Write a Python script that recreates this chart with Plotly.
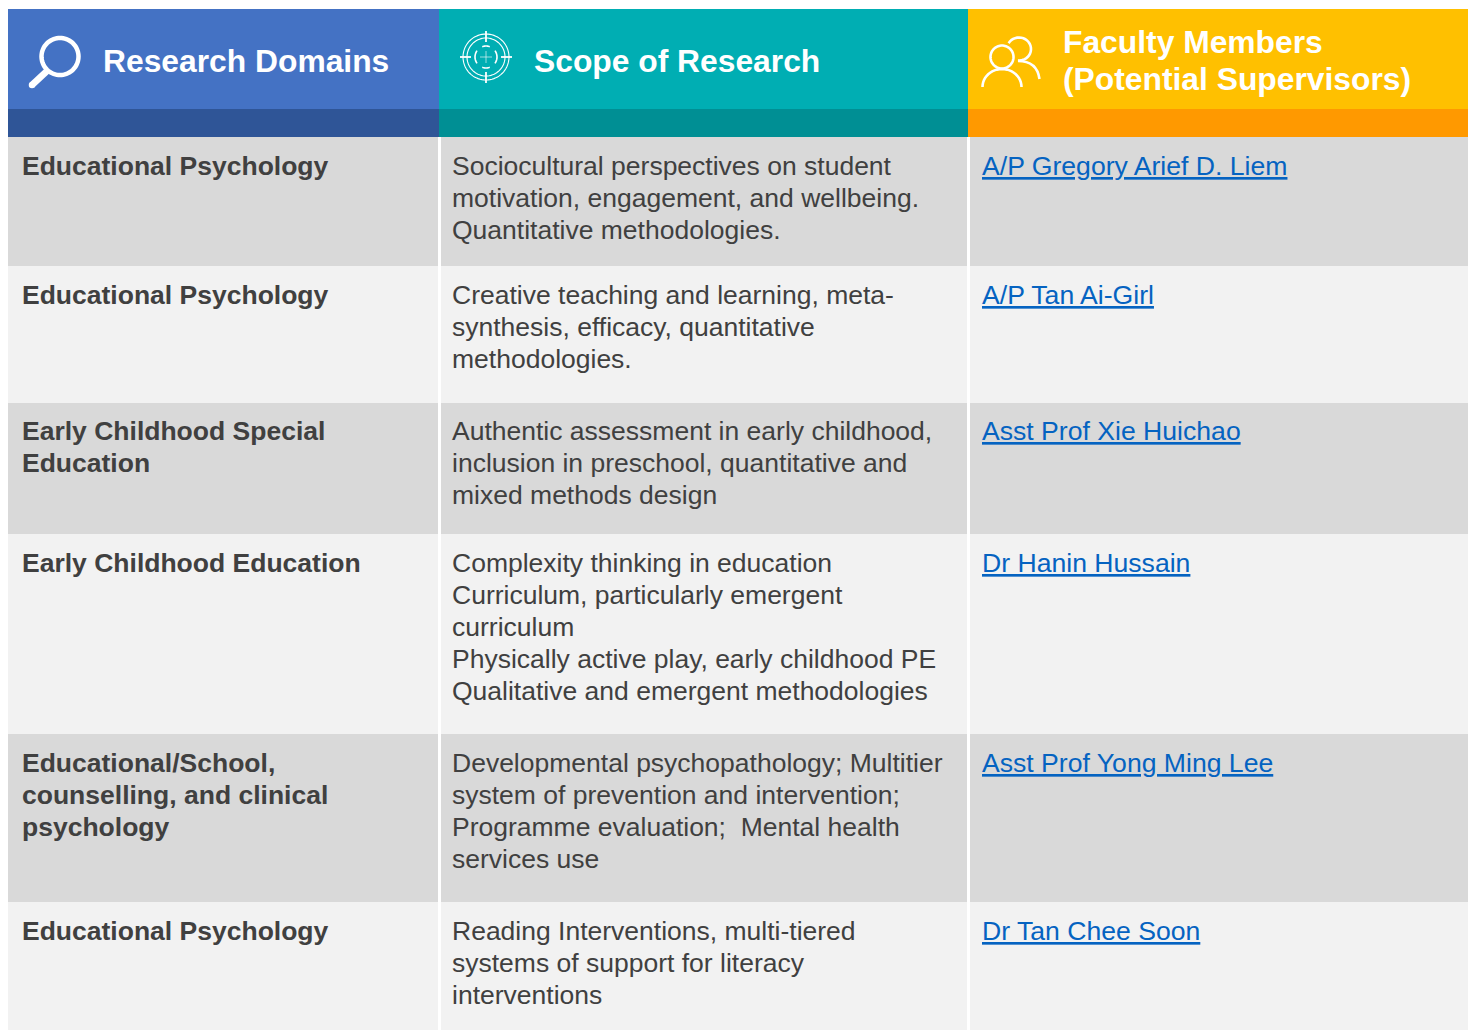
import math
import plotly.graph_objects as go

# ---- data -------------------------------------------------------------
headers = [["Research Domains"], ["Scope of Research"], ["Faculty Members", "(Potential Supervisors)"]]
domains = [
    ["Educational Psychology"],
    ["Educational Psychology"],
    ["Early Childhood Special", "Education"],
    ["Early Childhood Education"],
    ["Educational/School,", "counselling, and clinical", "psychology"],
    ["Educational Psychology"],
]
scopes = [
    ["Sociocultural perspectives on student", "motivation, engagement, and wellbeing.", "Quantitative methodologies."],
    ["Creative teaching and learning, meta-", "synthesis, efficacy, quantitative", "methodologies."],
    ["Authentic assessment in early childhood,", "inclusion in preschool, quantitative and", "mixed methods design"],
    ["Complexity thinking in education", "Curriculum, particularly emergent", "curriculum",
     "Physically active play, early childhood PE", "Qualitative and emergent methodologies"],
    ["Developmental psychopathology; Multitier", "system of prevention and intervention;",
     "Programme evaluation;\u00a0 Mental health", "services use"],
    ["Reading Interventions, multi-tiered", "systems of support for literacy", "interventions"],
]
faculty = [
    "A/P Gregory Arief D. Liem",
    "A/P Tan Ai-Girl",
    "Asst Prof Xie Huichao",
    "Dr Hanin Hussain",
    "Asst Prof Yong Ming Lee",
    "Dr Tan Chee Soon",
]

# ---- layout and style --------------------------------------------------
W, H = 1471, 1030
col_edges = [8, 439, 968, 1468]
col_text_x = [20.5, 451, 980.5]
head_text_x = [101.5, 532.5, 1061.5]
row_edges = [137, 266, 403, 534, 734, 902, 1030]
first_line_y = [165.5, 294.5, 430.5, 562.5, 762.5, 930.5]
line_pitch = 32
head_top, head_mid, head_bot = 9, 109, 137
head_colors = ["#4472C4", "#00AEB3", "#FFC000"]
band_colors = ["#2F5597", "#008F94", "#FF9900"]
row_colors = ["#D9D9D9", "#F2F2F2"]
text_color = "#404040"
link_color = "#0563C1"
font = "Liberation Sans, Arial, sans-serif"
body_size = 26.5
link_size = 26.6
head_size = 31.8
white = "#FFFFFF"

fig = go.Figure()


def bars(x0, x1, y0, y1, colors):
    fig.add_trace(go.Bar(
        x=[(a + b) / 2 for a, b in zip(x0, x1)],
        width=[b - a for a, b in zip(x0, x1)],
        base=y0,
        y=[b - a for a, b in zip(y0, y1)],
        marker=dict(color=colors, line=dict(width=0)),
        hoverinfo="skip", showlegend=False,
    ))


# header and band
bars(col_edges[:-1], col_edges[1:], [head_top] * 3, [head_mid] * 3, head_colors)
bars(col_edges[:-1], col_edges[1:], [head_mid] * 3, [head_bot] * 3, band_colors)

# body cells
gap = 1.5
for c in range(3):
    left = col_edges[c] + (gap if c else 0)
    right = col_edges[c + 1] - (gap if c < 2 else 0)
    bars([left] * 6, [right] * 6, row_edges[:-1], row_edges[1:],
         [row_colors[i % 2] for i in range(6)])


def label(x, y, text, size, color, bold=False):
    fig.add_annotation(
        x=x, y=y, xref="x", yref="y", text=f"<b>{text}</b>" if bold else text,
        showarrow=False, xanchor="left", yanchor="middle", align="left",
        borderpad=0, font=dict(family=font, size=size, color=color),
    )


# header text
label(head_text_x[0], 61, headers[0][0], head_size, white, True)
label(head_text_x[1], 61, headers[1][0], head_size, white, True)
label(head_text_x[2], 42, headers[2][0], head_size, white, True)
label(head_text_x[2], 79, headers[2][1], head_size, white, True)

# body text
for i in range(6):
    y = first_line_y[i]
    for j, t in enumerate(domains[i]):
        label(col_text_x[0], y + j * line_pitch, t, body_size, text_color, True)
    for j, t in enumerate(scopes[i]):
        label(col_text_x[1], y + j * line_pitch, t, body_size, text_color)
    label(col_text_x[2], y, f"<u>{faculty[i]}</u>", link_size, link_color)


# ---- icons -------------------------------------------------------------
def arc(cx, cy, rx, ry, a0, a1, n=24):
    pts = []
    for k in range(n + 1):
        a = math.radians(a0 + (a1 - a0) * k / n)
        pts.append((cx + rx * math.cos(a), cy + ry * math.sin(a)))
    return "M" + " L".join(f"{px:.2f},{py:.2f}" for px, py in pts)


def stroke(path, width, color=white, opacity=1.0):
    fig.add_shape(type="path", path=path, line=dict(color=color, width=width),
                  opacity=opacity, xref="x", yref="y", layer="above")


def circle(cx, cy, r, width, opacity=1.0):
    stroke(arc(cx, cy, r, r, 0, 360, 72) + " Z", width, opacity=opacity)


def dot(cx, cy, r):
    fig.add_shape(type="circle", x0=cx - r, x1=cx + r, y0=cy - r, y1=cy + r,
                  fillcolor=white, line=dict(width=0), layer="above")


# magnifier
circle(60, 56.5, 18.5, 4.5)
stroke("M47,71 L32,85", 6.5)
dot(32, 85, 3.25)

# target
tx, ty = 486, 57
circle(tx, ty, 23, 1.1)
circle(tx, ty, 19, 1.1)
for a0, a1 in [(-110, -70), (-35, 35), (70, 110), (145, 215)]:
    stroke(arc(tx, ty, 11, 11, a0, a1, 10), 1.6)
stroke(f"M{tx - 26},{ty} L{tx - 15},{ty}", 1.8)
stroke(f"M{tx + 15},{ty} L{tx + 26},{ty}", 1.8)
stroke(f"M{tx},{ty - 26} L{tx},{ty - 15}", 1.8)
stroke(f"M{tx},{ty + 15} L{tx},{ty + 26}", 1.8)
stroke(f"M{tx - 6},{ty} L{tx + 6},{ty}", 1, opacity=0.6)
stroke(f"M{tx},{ty - 6} L{tx},{ty + 6}", 1, opacity=0.6)

# people
circle(1002, 57, 11.5, 2.6)
stroke(arc(1002, 87, 19.5, 18, 180, 360), 2.6)
stroke(arc(1019, 49, 12, 11.5, -150, 95), 2.6)
stroke("M1018,61 Q1037,61 1039.5,79", 2.6)

fig.update_layout(
    width=W, height=H, margin=dict(l=0, r=0, t=0, b=0),
    paper_bgcolor=white, plot_bgcolor=white, barmode="overlay", bargap=0,
    xaxis=dict(range=[0, W], visible=False, fixedrange=True),
    yaxis=dict(range=[H, 0], visible=False, fixedrange=True),
    showlegend=False,
)
fig.write_html("out.html", config={"displayModeBar": False},
               post_script="document.body.style.margin='0';")
